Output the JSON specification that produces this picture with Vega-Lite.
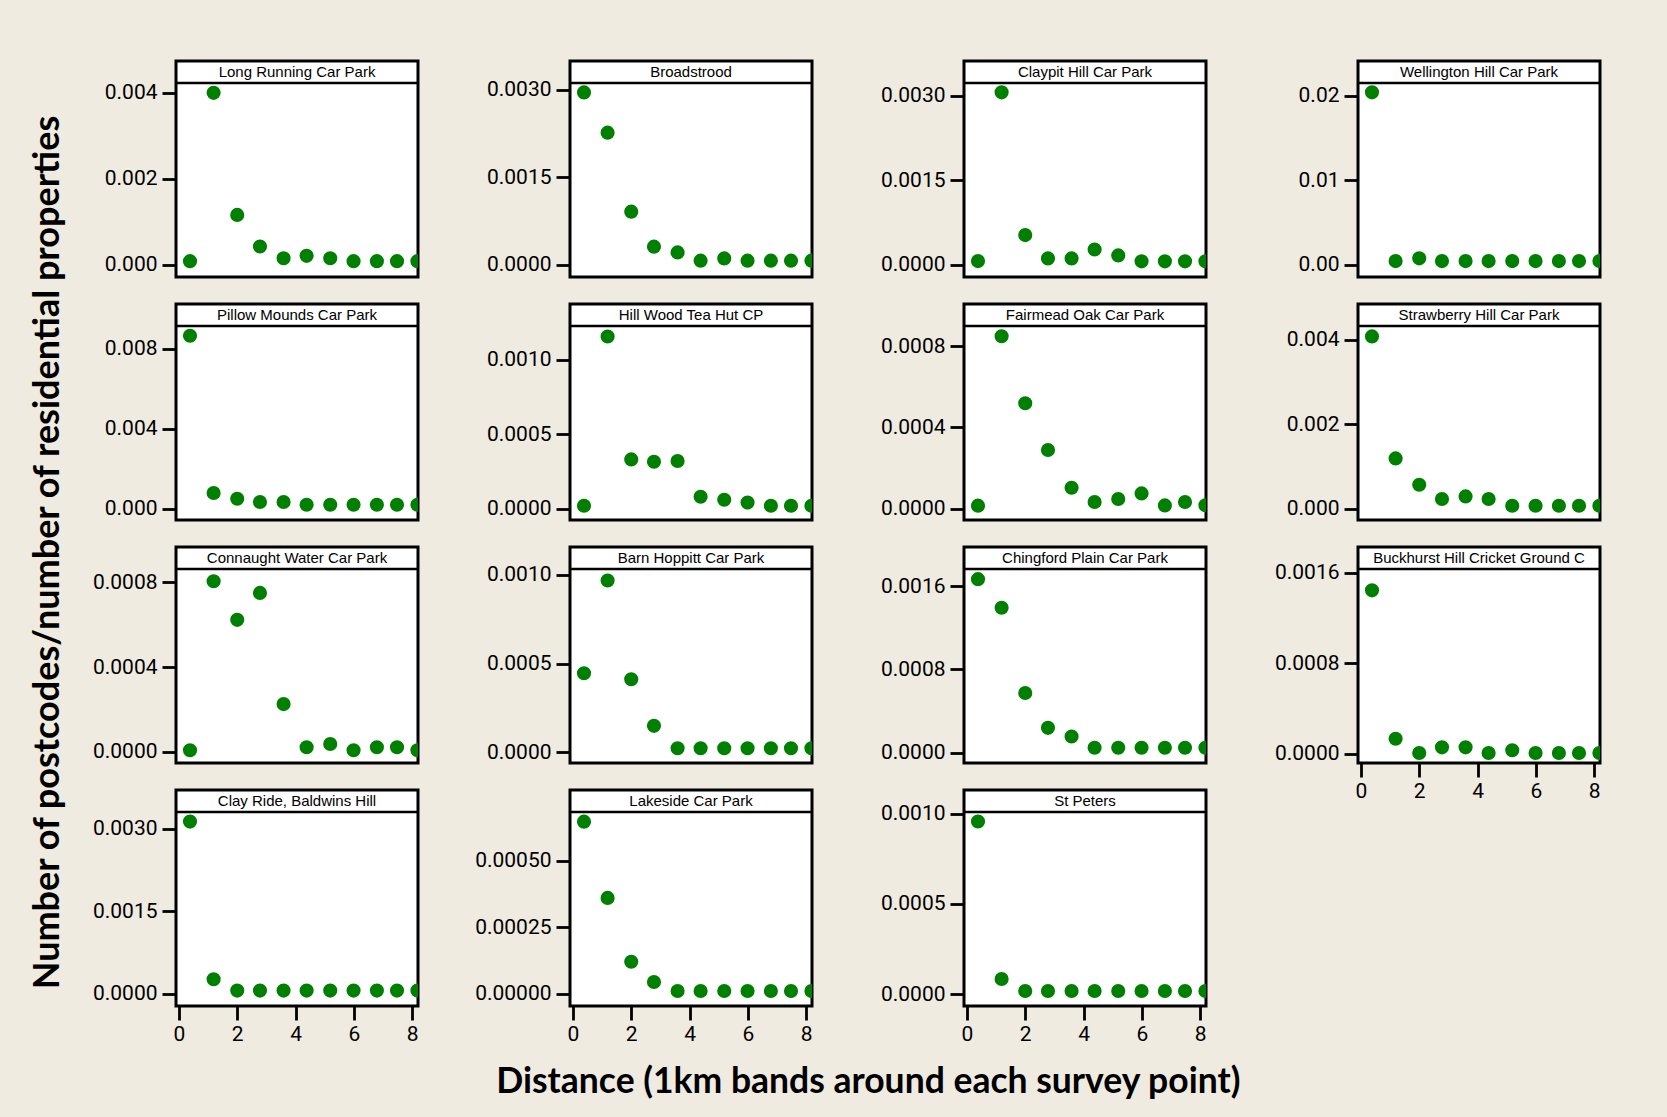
{
"$schema": "https://vega.github.io/schema/vega-lite/v6.json",
"background": "#EFEBE1",
"padding": {"left": 29, "top": 59, "right": 66, "bottom": 22},
"title": {"text": "Distance (1km bands around each survey point)", "orient": "bottom", "anchor": "middle", "font": "Lato", "fontSize": 35.5, "fontWeight": "bold", "color": "black", "offset": 19, "dx": 52},
"data": {"values": [
{"site":"Long Running Car Park","d":0.38,"v":0.000084},{"site":"Long Running Car Park","d":1.19,"v":0.004},{"site":"Long Running Car Park","d":2.0,"v":0.00116},{"site":"Long Running Car Park","d":2.78,"v":0.000426},{"site":"Long Running Car Park","d":3.59,"v":0.000153},{"site":"Long Running Car Park","d":4.38,"v":0.000209},{"site":"Long Running Car Park","d":5.19,"v":0.000153},{"site":"Long Running Car Park","d":5.99,"v":0.000084},{"site":"Long Running Car Park","d":6.79,"v":0.000084},{"site":"Long Running Car Park","d":7.48,"v":0.000084},{"site":"Long Running Car Park","d":8.18,"v":0.000084},
{"site":"Broadstrood","d":0.38,"v":0.002954},{"site":"Broadstrood","d":1.19,"v":0.002263},{"site":"Broadstrood","d":2.0,"v":0.000909},{"site":"Broadstrood","d":2.78,"v":0.000309},{"site":"Broadstrood","d":3.59,"v":0.000211},{"site":"Broadstrood","d":4.38,"v":0.000069},{"site":"Broadstrood","d":5.19,"v":0.000108},{"site":"Broadstrood","d":5.99,"v":0.000069},{"site":"Broadstrood","d":6.79,"v":0.000069},{"site":"Broadstrood","d":7.48,"v":0.000069},{"site":"Broadstrood","d":8.18,"v":0.000069},
{"site":"Claypit Hill Car Park","d":0.38,"v":0.000064},{"site":"Claypit Hill Car Park","d":1.19,"v":0.00306},{"site":"Claypit Hill Car Park","d":2.0,"v":0.000526},{"site":"Claypit Hill Car Park","d":2.78,"v":0.000112},{"site":"Claypit Hill Car Park","d":3.59,"v":0.000112},{"site":"Claypit Hill Car Park","d":4.38,"v":0.00027},{"site":"Claypit Hill Car Park","d":5.19,"v":0.000165},{"site":"Claypit Hill Car Park","d":5.99,"v":0.00006},{"site":"Claypit Hill Car Park","d":6.79,"v":0.00006},{"site":"Claypit Hill Car Park","d":7.48,"v":0.00006},{"site":"Claypit Hill Car Park","d":8.18,"v":0.00006},
{"site":"Wellington Hill Car Park","d":0.38,"v":0.0204},{"site":"Wellington Hill Car Park","d":1.19,"v":0.00043},{"site":"Wellington Hill Car Park","d":2.0,"v":0.00075},{"site":"Wellington Hill Car Park","d":2.78,"v":0.00043},{"site":"Wellington Hill Car Park","d":3.59,"v":0.00043},{"site":"Wellington Hill Car Park","d":4.38,"v":0.00043},{"site":"Wellington Hill Car Park","d":5.19,"v":0.00043},{"site":"Wellington Hill Car Park","d":5.99,"v":0.00043},{"site":"Wellington Hill Car Park","d":6.79,"v":0.00043},{"site":"Wellington Hill Car Park","d":7.48,"v":0.00043},{"site":"Wellington Hill Car Park","d":8.18,"v":0.00043},
{"site":"Pillow Mounds Car Park","d":0.38,"v":0.00865},{"site":"Pillow Mounds Car Park","d":1.19,"v":0.000785},{"site":"Pillow Mounds Car Park","d":2.0,"v":0.0005},{"site":"Pillow Mounds Car Park","d":2.78,"v":0.000335},{"site":"Pillow Mounds Car Park","d":3.59,"v":0.000335},{"site":"Pillow Mounds Car Park","d":4.38,"v":0.0002},{"site":"Pillow Mounds Car Park","d":5.19,"v":0.0002},{"site":"Pillow Mounds Car Park","d":5.99,"v":0.0002},{"site":"Pillow Mounds Car Park","d":6.79,"v":0.0002},{"site":"Pillow Mounds Car Park","d":7.48,"v":0.0002},{"site":"Pillow Mounds Car Park","d":8.18,"v":0.0002},
{"site":"Hill Wood Tea Hut CP","d":0.38,"v":0.00002},{"site":"Hill Wood Tea Hut CP","d":1.19,"v":0.001156},{"site":"Hill Wood Tea Hut CP","d":2.0,"v":0.000331},{"site":"Hill Wood Tea Hut CP","d":2.78,"v":0.000315},{"site":"Hill Wood Tea Hut CP","d":3.59,"v":0.00032},{"site":"Hill Wood Tea Hut CP","d":4.38,"v":0.0000805},{"site":"Hill Wood Tea Hut CP","d":5.19,"v":0.00006},{"site":"Hill Wood Tea Hut CP","d":5.99,"v":0.000042},{"site":"Hill Wood Tea Hut CP","d":6.79,"v":0.00002},{"site":"Hill Wood Tea Hut CP","d":7.48,"v":0.00002},{"site":"Hill Wood Tea Hut CP","d":8.18,"v":0.00002},
{"site":"Fairmead Oak Car Park","d":0.38,"v":0.0000148},{"site":"Fairmead Oak Car Park","d":1.19,"v":0.000849},{"site":"Fairmead Oak Car Park","d":2.0,"v":0.000519},{"site":"Fairmead Oak Car Park","d":2.78,"v":0.000289},{"site":"Fairmead Oak Car Park","d":3.59,"v":0.000103},{"site":"Fairmead Oak Car Park","d":4.38,"v":0.000033},{"site":"Fairmead Oak Car Park","d":5.19,"v":0.0000478},{"site":"Fairmead Oak Car Park","d":5.99,"v":0.0000754},{"site":"Fairmead Oak Car Park","d":6.79,"v":0.0000163},{"site":"Fairmead Oak Car Park","d":7.48,"v":0.000033},{"site":"Fairmead Oak Car Park","d":8.18,"v":0.000017},
{"site":"Strawberry Hill Car Park","d":0.38,"v":0.004078},{"site":"Strawberry Hill Car Park","d":1.19,"v":0.00119},{"site":"Strawberry Hill Car Park","d":2.0,"v":0.000568},{"site":"Strawberry Hill Car Park","d":2.78,"v":0.00023},{"site":"Strawberry Hill Car Park","d":3.59,"v":0.000291},{"site":"Strawberry Hill Car Park","d":4.38,"v":0.00023},{"site":"Strawberry Hill Car Park","d":5.19,"v":0.000071},{"site":"Strawberry Hill Car Park","d":5.99,"v":0.000071},{"site":"Strawberry Hill Car Park","d":6.79,"v":0.000071},{"site":"Strawberry Hill Car Park","d":7.48,"v":0.000071},{"site":"Strawberry Hill Car Park","d":8.18,"v":0.000071},
{"site":"Connaught Water Car Park","d":0.38,"v":0.0000066},{"site":"Connaught Water Car Park","d":1.19,"v":0.000805},{"site":"Connaught Water Car Park","d":2.0,"v":0.000623},{"site":"Connaught Water Car Park","d":2.78,"v":0.00075},{"site":"Connaught Water Car Park","d":3.59,"v":0.000225},{"site":"Connaught Water Car Park","d":4.38,"v":0.0000208},{"site":"Connaught Water Car Park","d":5.19,"v":0.0000364},{"site":"Connaught Water Car Park","d":5.99,"v":0.0000066},{"site":"Connaught Water Car Park","d":6.79,"v":0.0000208},{"site":"Connaught Water Car Park","d":7.48,"v":0.0000208},{"site":"Connaught Water Car Park","d":8.18,"v":0.0000066},
{"site":"Barn Hoppitt Car Park","d":0.38,"v":0.000446},{"site":"Barn Hoppitt Car Park","d":1.19,"v":0.000968},{"site":"Barn Hoppitt Car Park","d":2.0,"v":0.000412},{"site":"Barn Hoppitt Car Park","d":2.78,"v":0.00015},{"site":"Barn Hoppitt Car Park","d":3.59,"v":0.000024},{"site":"Barn Hoppitt Car Park","d":4.38,"v":0.000024},{"site":"Barn Hoppitt Car Park","d":5.19,"v":0.000024},{"site":"Barn Hoppitt Car Park","d":5.99,"v":0.000024},{"site":"Barn Hoppitt Car Park","d":6.79,"v":0.000024},{"site":"Barn Hoppitt Car Park","d":7.48,"v":0.000024},{"site":"Barn Hoppitt Car Park","d":8.18,"v":0.000024},
{"site":"Chingford Plain Car Park","d":0.38,"v":0.001671},{"site":"Chingford Plain Car Park","d":1.19,"v":0.001395},{"site":"Chingford Plain Car Park","d":2.0,"v":0.000573},{"site":"Chingford Plain Car Park","d":2.78,"v":0.000238},{"site":"Chingford Plain Car Park","d":3.59,"v":0.000154},{"site":"Chingford Plain Car Park","d":4.38,"v":0.0000453},{"site":"Chingford Plain Car Park","d":5.19,"v":0.0000453},{"site":"Chingford Plain Car Park","d":5.99,"v":0.0000453},{"site":"Chingford Plain Car Park","d":6.79,"v":0.0000453},{"site":"Chingford Plain Car Park","d":7.48,"v":0.0000453},{"site":"Chingford Plain Car Park","d":8.18,"v":0.0000453},
{"site":"Buckhurst Hill Cricket Ground C","d":0.38,"v":0.001447},{"site":"Buckhurst Hill Cricket Ground C","d":1.19,"v":0.000135},{"site":"Buckhurst Hill Cricket Ground C","d":2.0,"v":0.0000088},{"site":"Buckhurst Hill Cricket Ground C","d":2.78,"v":0.000059},{"site":"Buckhurst Hill Cricket Ground C","d":3.59,"v":0.000059},{"site":"Buckhurst Hill Cricket Ground C","d":4.38,"v":0.0000088},{"site":"Buckhurst Hill Cricket Ground C","d":5.19,"v":0.0000327},{"site":"Buckhurst Hill Cricket Ground C","d":5.99,"v":0.0000088},{"site":"Buckhurst Hill Cricket Ground C","d":6.79,"v":0.0000088},{"site":"Buckhurst Hill Cricket Ground C","d":7.48,"v":0.0000088},{"site":"Buckhurst Hill Cricket Ground C","d":8.18,"v":0.0000088},
{"site":"Clay Ride, Baldwins Hill","d":0.38,"v":0.003127},{"site":"Clay Ride, Baldwins Hill","d":1.19,"v":0.000267},{"site":"Clay Ride, Baldwins Hill","d":2.0,"v":0.0000617},{"site":"Clay Ride, Baldwins Hill","d":2.78,"v":0.0000617},{"site":"Clay Ride, Baldwins Hill","d":3.59,"v":0.0000617},{"site":"Clay Ride, Baldwins Hill","d":4.38,"v":0.0000617},{"site":"Clay Ride, Baldwins Hill","d":5.19,"v":0.0000617},{"site":"Clay Ride, Baldwins Hill","d":5.99,"v":0.0000617},{"site":"Clay Ride, Baldwins Hill","d":6.79,"v":0.0000617},{"site":"Clay Ride, Baldwins Hill","d":7.48,"v":0.0000617},{"site":"Clay Ride, Baldwins Hill","d":8.18,"v":0.0000617},
{"site":"Lakeside Car Park","d":0.38,"v":0.000646},{"site":"Lakeside Car Park","d":1.19,"v":0.00036},{"site":"Lakeside Car Park","d":2.0,"v":0.000121},{"site":"Lakeside Car Park","d":2.78,"v":0.000045},{"site":"Lakeside Car Park","d":3.59,"v":0.0000112},{"site":"Lakeside Car Park","d":4.38,"v":0.0000112},{"site":"Lakeside Car Park","d":5.19,"v":0.0000112},{"site":"Lakeside Car Park","d":5.99,"v":0.0000112},{"site":"Lakeside Car Park","d":6.79,"v":0.0000112},{"site":"Lakeside Car Park","d":7.48,"v":0.0000112},{"site":"Lakeside Car Park","d":8.18,"v":0.0000112},
{"site":"St Peters","d":0.38,"v":0.000956},{"site":"St Peters","d":1.19,"v":0.0000832},{"site":"St Peters","d":2.0,"v":0.0000166},{"site":"St Peters","d":2.78,"v":0.0000166},{"site":"St Peters","d":3.59,"v":0.0000166},{"site":"St Peters","d":4.38,"v":0.0000166},{"site":"St Peters","d":5.19,"v":0.0000166},{"site":"St Peters","d":5.99,"v":0.0000166},{"site":"St Peters","d":6.79,"v":0.0000166},{"site":"St Peters","d":7.48,"v":0.0000166},{"site":"St Peters","d":8.18,"v":0.0000166}
]},
"vconcat": [{
"title": {"text": "Number of postcodes/number of residential properties", "orient": "left", "anchor": "middle", "font": "Lato", "fontSize": 36, "fontWeight": "bold", "color": "black", "offset": 24},
"columns": 4,
"spacing": {"row": 27, "column": 152},
"bounds": "flush",
"concat": [
{"width":242,"height":216,"layer":[
{"transform":[{"filter":{"field":"site","equal":"Long Running Car Park"}}],"mark":{"type":"circle","size":200,"color":"#008000","opacity":1,"clip":true},"encoding":{"x":{"field":"d","type":"quantitative","scale":{"domain":[-0.1,8.2],"nice":false,"zero":false},"axis":null},"y":{"field":"v","type":"quantitative","scale":{"domain":[-0.000284,0.00474],"nice":false,"zero":false},"axis":{"values":[0,0.002,0.004],"format":".3f"}}}},
{"data":{"values":[{}]},"mark":{"type":"rule","color":"black","strokeWidth":2.5},"encoding":{"y":{"datum":0.004228,"type":"quantitative"}}},
{"data":{"values":[{}]},"mark":{"type":"text","text":"Long Running Car Park","font":"Liberation Sans","fontSize":15,"color":"black","align":"center","baseline":"middle"},"encoding":{"x":{"datum":4.05,"type":"quantitative"},"y":{"datum":0.004484,"type":"quantitative"}}}]},
{"width":242,"height":216,"layer":[
{"transform":[{"filter":{"field":"site","equal":"Broadstrood"}}],"mark":{"type":"circle","size":200,"color":"#008000","opacity":1,"clip":true},"encoding":{"x":{"field":"d","type":"quantitative","scale":{"domain":[-0.1,8.2],"nice":false,"zero":false},"axis":null},"y":{"field":"v","type":"quantitative","scale":{"domain":[-0.000211,0.003492],"nice":false,"zero":false},"axis":{"values":[0,0.0015,0.003],"format":".4f"}}}},
{"data":{"values":[{}]},"mark":{"type":"rule","color":"black","strokeWidth":2.5},"encoding":{"y":{"datum":0.003115,"type":"quantitative"}}},
{"data":{"values":[{}]},"mark":{"type":"text","text":"Broadstrood","font":"Liberation Sans","fontSize":15,"color":"black","align":"center","baseline":"middle"},"encoding":{"x":{"datum":4.05,"type":"quantitative"},"y":{"datum":0.003304,"type":"quantitative"}}}]},
{"width":242,"height":216,"layer":[
{"transform":[{"filter":{"field":"site","equal":"Claypit Hill Car Park"}}],"mark":{"type":"circle","size":200,"color":"#008000","opacity":1,"clip":true},"encoding":{"x":{"field":"d","type":"quantitative","scale":{"domain":[-0.1,8.2],"nice":false,"zero":false},"axis":null},"y":{"field":"v","type":"quantitative","scale":{"domain":[-0.000218,0.003616],"nice":false,"zero":false},"axis":{"values":[0,0.0015,0.003],"format":".4f"}}}},
{"data":{"values":[{}]},"mark":{"type":"rule","color":"black","strokeWidth":2.5},"encoding":{"y":{"datum":0.003226,"type":"quantitative"}}},
{"data":{"values":[{}]},"mark":{"type":"text","text":"Claypit Hill Car Park","font":"Liberation Sans","fontSize":15,"color":"black","align":"center","baseline":"middle"},"encoding":{"x":{"datum":4.05,"type":"quantitative"},"y":{"datum":0.003421,"type":"quantitative"}}}]},
{"width":242,"height":216,"layer":[
{"transform":[{"filter":{"field":"site","equal":"Wellington Hill Car Park"}}],"mark":{"type":"circle","size":200,"color":"#008000","opacity":1,"clip":true},"encoding":{"x":{"field":"d","type":"quantitative","scale":{"domain":[-0.1,8.2],"nice":false,"zero":false},"axis":null},"y":{"field":"v","type":"quantitative","scale":{"domain":[-0.001456,0.024106],"nice":false,"zero":false},"axis":{"values":[0,0.01,0.02],"format":".2f"}}}},
{"data":{"values":[{}]},"mark":{"type":"rule","color":"black","strokeWidth":2.5},"encoding":{"y":{"datum":0.021503,"type":"quantitative"}}},
{"data":{"values":[{}]},"mark":{"type":"text","text":"Wellington Hill Car Park","font":"Liberation Sans","fontSize":15,"color":"black","align":"center","baseline":"middle"},"encoding":{"x":{"datum":4.05,"type":"quantitative"},"y":{"datum":0.022805,"type":"quantitative"}}}]},
{"width":242,"height":216,"layer":[
{"transform":[{"filter":{"field":"site","equal":"Pillow Mounds Car Park"}}],"mark":{"type":"circle","size":200,"color":"#008000","opacity":1,"clip":true},"encoding":{"x":{"field":"d","type":"quantitative","scale":{"domain":[-0.1,8.2],"nice":false,"zero":false},"axis":null},"y":{"field":"v","type":"quantitative","scale":{"domain":[-0.000565,0.010235],"nice":false,"zero":false},"axis":{"values":[0,0.004,0.008],"format":".3f"}}}},
{"data":{"values":[{}]},"mark":{"type":"rule","color":"black","strokeWidth":2.5},"encoding":{"y":{"datum":0.009135,"type":"quantitative"}}},
{"data":{"values":[{}]},"mark":{"type":"text","text":"Pillow Mounds Car Park","font":"Liberation Sans","fontSize":15,"color":"black","align":"center","baseline":"middle"},"encoding":{"x":{"datum":4.05,"type":"quantitative"},"y":{"datum":0.009685,"type":"quantitative"}}}]},
{"width":242,"height":216,"layer":[
{"transform":[{"filter":{"field":"site","equal":"Hill Wood Tea Hut CP"}}],"mark":{"type":"circle","size":200,"color":"#008000","opacity":1,"clip":true},"encoding":{"x":{"field":"d","type":"quantitative","scale":{"domain":[-0.1,8.2],"nice":false,"zero":false},"axis":null},"y":{"field":"v","type":"quantitative","scale":{"domain":[-0.0000758,0.001374],"nice":false,"zero":false},"axis":{"values":[0,0.0005,0.001],"format":".4f"}}}},
{"data":{"values":[{}]},"mark":{"type":"rule","color":"black","strokeWidth":2.5},"encoding":{"y":{"datum":0.001226,"type":"quantitative"}}},
{"data":{"values":[{}]},"mark":{"type":"text","text":"Hill Wood Tea Hut CP","font":"Liberation Sans","fontSize":15,"color":"black","align":"center","baseline":"middle"},"encoding":{"x":{"datum":4.05,"type":"quantitative"},"y":{"datum":0.0013,"type":"quantitative"}}}]},
{"width":242,"height":216,"layer":[
{"transform":[{"filter":{"field":"site","equal":"Fairmead Oak Car Park"}}],"mark":{"type":"circle","size":200,"color":"#008000","opacity":1,"clip":true},"encoding":{"x":{"field":"d","type":"quantitative","scale":{"domain":[-0.1,8.2],"nice":false,"zero":false},"axis":null},"y":{"field":"v","type":"quantitative","scale":{"domain":[-0.0000557,0.001008],"nice":false,"zero":false},"axis":{"values":[0,0.0004,0.0008],"format":".4f"}}}},
{"data":{"values":[{}]},"mark":{"type":"rule","color":"black","strokeWidth":2.5},"encoding":{"y":{"datum":0.0009,"type":"quantitative"}}},
{"data":{"values":[{}]},"mark":{"type":"text","text":"Fairmead Oak Car Park","font":"Liberation Sans","fontSize":15,"color":"black","align":"center","baseline":"middle"},"encoding":{"x":{"datum":4.05,"type":"quantitative"},"y":{"datum":0.000954,"type":"quantitative"}}}]},
{"width":242,"height":216,"layer":[
{"transform":[{"filter":{"field":"site","equal":"Strawberry Hill Car Park"}}],"mark":{"type":"circle","size":200,"color":"#008000","opacity":1,"clip":true},"encoding":{"x":{"field":"d","type":"quantitative","scale":{"domain":[-0.1,8.2],"nice":false,"zero":false},"axis":null},"y":{"field":"v","type":"quantitative","scale":{"domain":[-0.000267,0.004845],"nice":false,"zero":false},"axis":{"values":[0,0.002,0.004],"format":".3f"}}}},
{"data":{"values":[{}]},"mark":{"type":"rule","color":"black","strokeWidth":2.5},"encoding":{"y":{"datum":0.004325,"type":"quantitative"}}},
{"data":{"values":[{}]},"mark":{"type":"text","text":"Strawberry Hill Car Park","font":"Liberation Sans","fontSize":15,"color":"black","align":"center","baseline":"middle"},"encoding":{"x":{"datum":4.05,"type":"quantitative"},"y":{"datum":0.004585,"type":"quantitative"}}}]},
{"width":242,"height":216,"layer":[
{"transform":[{"filter":{"field":"site","equal":"Connaught Water Car Park"}}],"mark":{"type":"circle","size":200,"color":"#008000","opacity":1,"clip":true},"encoding":{"x":{"field":"d","type":"quantitative","scale":{"domain":[-0.1,8.2],"nice":false,"zero":false},"axis":null},"y":{"field":"v","type":"quantitative","scale":{"domain":[-0.0000534,0.000967],"nice":false,"zero":false},"axis":{"values":[0,0.0004,0.0008],"format":".4f"}}}},
{"data":{"values":[{}]},"mark":{"type":"rule","color":"black","strokeWidth":2.5},"encoding":{"y":{"datum":0.000863,"type":"quantitative"}}},
{"data":{"values":[{}]},"mark":{"type":"text","text":"Connaught Water Car Park","font":"Liberation Sans","fontSize":15,"color":"black","align":"center","baseline":"middle"},"encoding":{"x":{"datum":4.05,"type":"quantitative"},"y":{"datum":0.000915,"type":"quantitative"}}}]},
{"width":242,"height":216,"layer":[
{"transform":[{"filter":{"field":"site","equal":"Barn Hoppitt Car Park"}}],"mark":{"type":"circle","size":200,"color":"#008000","opacity":1,"clip":true},"encoding":{"x":{"field":"d","type":"quantitative","scale":{"domain":[-0.1,8.2],"nice":false,"zero":false},"axis":null},"y":{"field":"v","type":"quantitative","scale":{"domain":[-0.0000591,0.0011564],"nice":false,"zero":false},"axis":{"values":[0,0.0005,0.001],"format":".4f"}}}},
{"data":{"values":[{}]},"mark":{"type":"rule","color":"black","strokeWidth":2.5},"encoding":{"y":{"datum":0.0010326,"type":"quantitative"}}},
{"data":{"values":[{}]},"mark":{"type":"text","text":"Barn Hoppitt Car Park","font":"Liberation Sans","fontSize":15,"color":"black","align":"center","baseline":"middle"},"encoding":{"x":{"datum":4.05,"type":"quantitative"},"y":{"datum":0.0010945,"type":"quantitative"}}}]},
{"width":242,"height":216,"layer":[
{"transform":[{"filter":{"field":"site","equal":"Chingford Plain Car Park"}}],"mark":{"type":"circle","size":200,"color":"#008000","opacity":1,"clip":true},"encoding":{"x":{"field":"d","type":"quantitative","scale":{"domain":[-0.1,8.2],"nice":false,"zero":false},"axis":null},"y":{"field":"v","type":"quantitative","scale":{"domain":[-0.0001012,0.0019807],"nice":false,"zero":false},"axis":{"values":[0,0.0008,0.0016],"format":".4f"}}}},
{"data":{"values":[{}]},"mark":{"type":"rule","color":"black","strokeWidth":2.5},"encoding":{"y":{"datum":0.0017687,"type":"quantitative"}}},
{"data":{"values":[{}]},"mark":{"type":"text","text":"Chingford Plain Car Park","font":"Liberation Sans","fontSize":15,"color":"black","align":"center","baseline":"middle"},"encoding":{"x":{"datum":4.05,"type":"quantitative"},"y":{"datum":0.0018747,"type":"quantitative"}}}]},
{"width":242,"height":216,"layer":[
{"transform":[{"filter":{"field":"site","equal":"Buckhurst Hill Cricket Ground C"}}],"mark":{"type":"circle","size":200,"color":"#008000","opacity":1,"clip":true},"encoding":{"x":{"field":"d","type":"quantitative","scale":{"domain":[-0.1,8.2],"nice":false,"zero":false},"axis":{"values":[0,2,4,6,8],"format":"d"}},"y":{"field":"v","type":"quantitative","scale":{"domain":[-0.0000796,0.0018298],"nice":false,"zero":false},"axis":{"values":[0,0.0008,0.0016],"format":".4f"}}}},
{"data":{"values":[{}]},"mark":{"type":"rule","color":"black","strokeWidth":2.5},"encoding":{"y":{"datum":0.0016353,"type":"quantitative"}}},
{"data":{"values":[{}]},"mark":{"type":"text","text":"Buckhurst Hill Cricket Ground C","font":"Liberation Sans","fontSize":15,"color":"black","align":"center","baseline":"middle"},"encoding":{"x":{"datum":4.05,"type":"quantitative"},"y":{"datum":0.0017326,"type":"quantitative"}}}]},
{"width":242,"height":216,"layer":[
{"transform":[{"filter":{"field":"site","equal":"Clay Ride, Baldwins Hill"}}],"mark":{"type":"circle","size":200,"color":"#008000","opacity":1,"clip":true},"encoding":{"x":{"field":"d","type":"quantitative","scale":{"domain":[-0.1,8.2],"nice":false,"zero":false},"axis":{"values":[0,2,4,6,8],"format":"d"}},"y":{"field":"v","type":"quantitative","scale":{"domain":[-0.0002177,0.0037],"nice":false,"zero":false},"axis":{"values":[0,0.0015,0.003],"format":".4f"}}}},
{"data":{"values":[{}]},"mark":{"type":"rule","color":"black","strokeWidth":2.5},"encoding":{"y":{"datum":0.003301,"type":"quantitative"}}},
{"data":{"values":[{}]},"mark":{"type":"text","text":"Clay Ride, Baldwins Hill","font":"Liberation Sans","fontSize":15,"color":"black","align":"center","baseline":"middle"},"encoding":{"x":{"datum":4.05,"type":"quantitative"},"y":{"datum":0.0035005,"type":"quantitative"}}}]},
{"width":242,"height":216,"layer":[
{"transform":[{"filter":{"field":"site","equal":"Lakeside Car Park"}}],"mark":{"type":"circle","size":200,"color":"#008000","opacity":1,"clip":true},"encoding":{"x":{"field":"d","type":"quantitative","scale":{"domain":[-0.1,8.2],"nice":false,"zero":false},"axis":{"values":[0,2,4,6,8],"format":"d"}},"y":{"field":"v","type":"quantitative","scale":{"domain":[-0.000045,0.0007646],"nice":false,"zero":false},"axis":{"values":[0,0.00025,0.0005],"format":".5f"}}}},
{"data":{"values":[{}]},"mark":{"type":"rule","color":"black","strokeWidth":2.5},"encoding":{"y":{"datum":0.0006821,"type":"quantitative"}}},
{"data":{"values":[{}]},"mark":{"type":"text","text":"Lakeside Car Park","font":"Liberation Sans","fontSize":15,"color":"black","align":"center","baseline":"middle"},"encoding":{"x":{"datum":4.05,"type":"quantitative"},"y":{"datum":0.0007234,"type":"quantitative"}}}]},
{"width":242,"height":216,"layer":[
{"transform":[{"filter":{"field":"site","equal":"St Peters"}}],"mark":{"type":"circle","size":200,"color":"#008000","opacity":1,"clip":true},"encoding":{"x":{"field":"d","type":"quantitative","scale":{"domain":[-0.1,8.2],"nice":false,"zero":false},"axis":{"values":[0,2,4,6,8],"format":"d"}},"y":{"field":"v","type":"quantitative","scale":{"domain":[-0.0000665,0.0011308],"nice":false,"zero":false},"axis":{"values":[0,0.0005,0.001],"format":".4f"}}}},
{"data":{"values":[{}]},"mark":{"type":"rule","color":"black","strokeWidth":2.5},"encoding":{"y":{"datum":0.0010089,"type":"quantitative"}}},
{"data":{"values":[{}]},"mark":{"type":"text","text":"St Peters","font":"Liberation Sans","fontSize":15,"color":"black","align":"center","baseline":"middle"},"encoding":{"x":{"datum":4.05,"type":"quantitative"},"y":{"datum":0.0010699,"type":"quantitative"}}}]}
]
}],
"config": {
"view": {"stroke": "black", "strokeWidth": 3, "fill": "white"},
"axis": {"labelFont": "Roboto", "labelFontSize": 21, "labelColor": "black", "tickColor": "black", "tickWidth": 2.8, "tickSize": 14, "domain": false, "grid": false, "title": null, "labelPadding": 5, "labelFlush": false, "labelOverlap": false, "labelBound": false},
"axisX": {"labelPadding": 3}
}
}
